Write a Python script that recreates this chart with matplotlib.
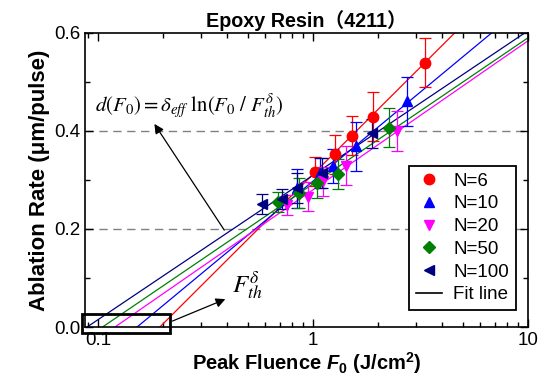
import numpy as np
import matplotlib.pyplot as plt
from matplotlib.patches import Rectangle
from matplotlib.lines import Line2D

plt.rcParams['font.family'] = ['Liberation Sans', 'Noto Sans CJK SC']
plt.rcParams['mathtext.fontset'] = 'custom'
plt.rcParams['mathtext.rm'] = 'Liberation Sans'
plt.rcParams['mathtext.it'] = 'Liberation Sans:italic'
plt.rcParams['mathtext.bf'] = 'Liberation Sans:bold'
plt.rcParams['mathtext.bfit'] = 'Liberation Sans:bold:italic'

# data
labels = ['N=6', 'N=10', 'N=20', 'N=50', 'N=100']
colors = ['#ff0000', '#0000ff', '#ff00ff', '#008000', '#000080']
markers = ['o', '^', 'v', 'D', '<']

fluence = [
    [1.02, 1.27, 1.52, 1.91, 3.32],
    [0.84, 1.08, 1.24, 1.58, 2.75],
    [0.755, 0.95, 1.11, 1.42, 2.47],
    [0.69, 0.86, 1.04, 1.31, 2.26],
    [0.577, 0.715, 0.84, 1.10, 1.89],
]
rate = [
    [0.317, 0.352, 0.390, 0.429, 0.539],
    [0.283, 0.314, 0.329, 0.369, 0.461],
    [0.249, 0.266, 0.297, 0.329, 0.400],
    [0.255, 0.273, 0.294, 0.312, 0.407],
    [0.251, 0.261, 0.284, 0.314, 0.395],
]
rate_err = [
    [0.03, 0.04, 0.04, 0.05, 0.05],
    [0.04, 0.03, 0.035, 0.05, 0.05],
    [0.02, 0.03, 0.03, 0.04, 0.04],
    [0.02, 0.03, 0.03, 0.03, 0.04],
    [0.02, 0.02, 0.03, 0.03, 0.03],
]
# fit: d = delta_eff * ln(F / F_th)
delta_eff = [0.190, 0.158, 0.132, 0.1295, 0.128]
f_th = [0.194, 0.152, 0.120, 0.105, 0.089]

fig = plt.figure(figsize=(5.5, 3.87), dpi=100)
ax = fig.add_axes([0.1545, 0.155, 0.8055, 0.76])

ax.axhline(0.2, color='gray', ls=(0, (6, 4)), lw=1, zorder=0)
ax.axhline(0.4, color='gray', ls=(0, (6, 4)), lw=1, zorder=0)

for i in range(len(labels)):
    f_end = min(10, f_th[i] * np.exp(0.6 / delta_eff[i]))
    xs = np.logspace(np.log10(f_th[i]), np.log10(f_end), 50)
    ax.plot(xs, delta_eff[i] * np.log(xs / f_th[i]), color=colors[i], lw=0.9, zorder=2)

handles = []
for i in range(len(labels)):
    ms = 6 if markers[i] == 'D' else 7.5
    ax.errorbar(fluence[i], rate[i], yerr=rate_err[i], fmt=markers[i], color=colors[i],
                ms=ms, capsize=4, elinewidth=0.9, capthick=0.9, zorder=3)
    handles.append(Line2D([], [], ls='none', marker=markers[i], color=colors[i], ms=ms,
                          label=labels[i]))
handles.append(Line2D([], [], color='k', lw=1.2, label='Fit line'))

ax.set_xscale('log')
ax.set_xlim(0.087, 10)
ax.set_ylim(0, 0.6)
ax.set_yticks([0.0, 0.2, 0.4, 0.6])
ax.set_yticks([0.1, 0.3, 0.5], minor=True)
ax.set_xticks([0.1, 1, 10])
ax.set_xticklabels(['0.1', '1', '10'])
ax.tick_params(which='both', direction='in', top=True, right=True, labelsize=13.5)
ax.tick_params(which='major', length=6, width=1)
ax.tick_params(which='minor', length=3.5, width=1)
for s in ax.spines.values():
    s.set_linewidth(1.2)

ax.set_title('Epoxy Resin（4211）', fontsize=14.2, fontweight='bold', pad=4)
ax.set_xlabel(r'Peak Fluence $\mathbfit{F}_{\mathbf{0}}$ (J/cm$^{\mathbf{2}}$)',
              fontsize=14.5, fontweight='bold', labelpad=1)
ax.set_ylabel('Ablation Rate (μm/pulse)', fontsize=16, fontweight='bold', labelpad=3)

leg = ax.legend(handles=handles, loc='lower right', bbox_to_anchor=(0.972, 0.058),
                borderaxespad=0, fontsize=13.5, frameon=True, fancybox=False,
                edgecolor='k', framealpha=1, handlelength=1.4, borderpad=0.35,
                labelspacing=0.3, handletextpad=0.6)
leg.get_frame().set_linewidth(1.3)

# threshold box
ax.add_patch(Rectangle((0.084, -0.012), 0.216 - 0.084, 0.039, fill=False,
                       ec='k', lw=2, clip_on=False, zorder=4))

ax.annotate('', xy=(0.18, 0.419), xytext=(0.393, 0.193),
            arrowprops=dict(arrowstyle='-|>', color='k', lw=0.9, mutation_scale=14))
ax.annotate('', xy=(0.402, 0.059), xytext=(0.216, 0.010),
            arrowprops=dict(arrowstyle='-|>', color='k', lw=0.9, mutation_scale=14))
ax.text(0.097, 0.449, r'$d(F_0) = \delta_{eff}\ \ln(F_0\ /\ F_{th}^{\delta})$', fontsize=15,
        va='center', ha='left', math_fontfamily='stix')
ax.text(0.42, 0.085, r'$F_{th}^{\delta}$', fontsize=18, va='center', ha='left',
        math_fontfamily='stix')

fig.savefig('out.png', dpi=100)
